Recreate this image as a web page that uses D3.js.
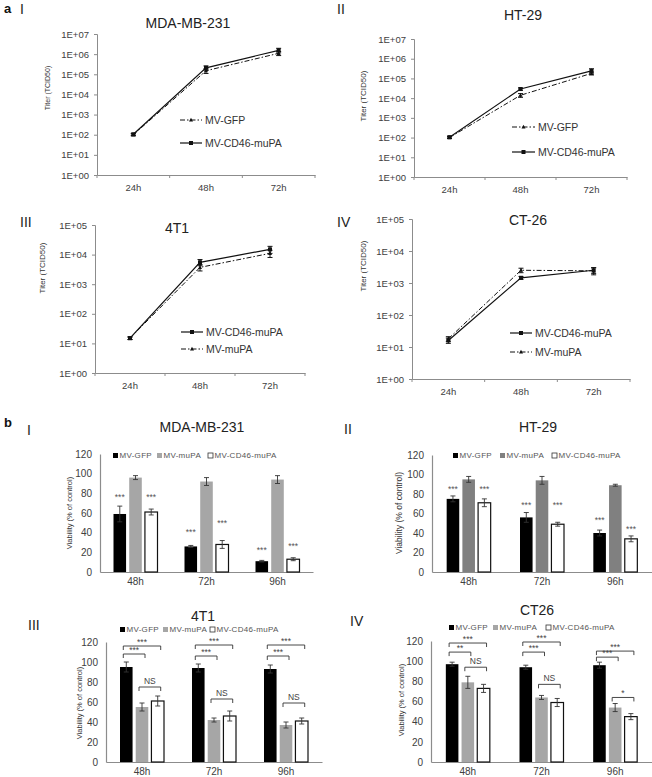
<!DOCTYPE html>
<html><head><meta charset="utf-8">
<script src="https://cdn.jsdelivr.net/npm/d3@7"></script>
<style>body{margin:0;background:#fff}svg{display:block;font-family:"Liberation Sans",Arial,sans-serif}</style>
</head><body>
<svg id="c" width="652" height="777"></svg>
<script>
// ---------- DATA ----------
const titerTimes = ["24h", "48h", "72h"];
const titerTicks7 = [1, 10, 100, 1e3, 1e4, 1e5, 1e6, 1e7];
const titerLabels7 = ["1E+00","1E+01","1E+02","1E+03","1E+04","1E+05","1E+06","1E+07"];
const titerTicks5 = [1, 10, 100, 1e3, 1e4, 1e5];
const titerLabels5 = ["1E+00","1E+01","1E+02","1E+03","1E+04","1E+05"];

const aI_GFP = [100, 1.5e5, 1.1e6];     const aI_GFP_err = [12, 4e4, 2.5e5];
const aI_CD46 = [105, 2.1e5, 1.55e6];   const aI_CD46_err = [12, 5e4, 4e5];
const aII_GFP = [100, 1.4e4, 1.8e5];    const aII_GFP_err = [10, 3e3, 3e4];
const aII_CD46 = [105, 2.9e4, 2.4e5];   const aII_CD46_err = [12, 4e3, 7e4];
const aIII_CD46 = [15, 5.5e3, 1.5e4];   const aIII_CD46_err = [1.5, 1.3e3, 4e3];
const aIII_muPA = [15, 3.7e3, 1.1e4];   const aIII_muPA_err = [1.5, 9e2, 3e3];
const aIV_CD46 = [16, 1.45e3, 2.5e3];   const aIV_CD46_err = [3, 1.5e2, 5e2];
const aIV_muPA = [18, 2.5e3, 2.4e3];    const aIV_muPA_err = [3, 4e2, 6e2];

const viabTimes = ["48h", "72h", "96h"];
const viabTicks = [0, 20, 40, 60, 80, 100, 120];
const viabSeries = ["MV-GFP", "MV-muPA", "MV-CD46-muPA"];

const bI_GFP = [59, 26, 11];   const bI_GFP_err = [8, 1, 0.8];
const bI_muPA = [96, 92, 94];  const bI_muPA_err = [2, 4, 4];
const bI_CD46 = [61, 28, 13];  const bI_CD46_err = [3, 4, 1.5];
const bI_starsGFP = [77, 42, 23];
const bI_starsCD46 = [77, 51, 27];

const bII_GFP = [75, 56, 40];  const bII_GFP_err = [3, 5, 3];
const bII_muPA = [95, 94, 89]; const bII_muPA_err = [3, 4, 1];
const bII_CD46 = [71, 49, 34]; const bII_CD46_err = [4, 2, 3];
const bII_starsGFP = [86, 70, 54];
const bII_starsCD46 = [86, 70, 45];

const bIII_GFP = [95, 94, 93]; const bIII_GFP_err = [5, 4, 4];
const bIII_muPA = [55, 42, 37]; const bIII_muPA_err = [4, 2, 3];
const bIII_CD46 = [61, 46, 41]; const bIII_CD46_err = [5, 5, 3];
// [time index, from series, to series, level, label]
const bIII_brackets = [
  [0,0,2,116,"***"],[0,0,1,108,"***"],[0,1,2,75,"NS"],
  [1,0,2,117,"***"],[1,0,1,106,"***"],[1,1,2,63,"NS"],
  [2,0,2,117,"***"],[2,0,1,106,"***"],[2,1,2,59,"NS"]];

const bIV_GFP = [97, 94, 96];  const bIV_GFP_err = [2, 2, 3];
const bIV_muPA = [79, 64, 54]; const bIV_muPA_err = [6, 2, 4];
const bIV_CD46 = [73, 59, 45]; const bIV_CD46_err = [4, 4, 3];
const bIV_brackets = [
  [0,0,2,118,"***"],[0,0,1,109,"**"],[0,1,2,94,"NS"],
  [1,0,2,119,"***"],[1,0,1,109,"***"],[1,1,2,77,"NS"],
  [2,0,2,110,"***"],[2,0,1,104,"***"],[2,1,2,64,"*"]];

// ---------- DRAW ----------
const svg = d3.select("#c");
const AX = "#8c8c8c", TXT = "#404040";

function txt(x, y, s, size, opts = {}) {
  const t = svg.append("text").attr("x", x).attr("y", y).text(s)
    .attr("font-size", size).attr("fill", opts.fill || "#222")
    .attr("text-anchor", opts.anchor || "middle");
  if (opts.weight) t.attr("font-weight", opts.weight);
  if (opts.rotate) t.attr("transform", `rotate(-90,${x},${y})`);
  if (opts.ls) t.attr("letter-spacing", opts.ls);
  return t;
}

function linePanel(c) {
  const g = svg.append("g");
  const y = d3.scaleLog().domain([1, c.ticks[c.ticks.length - 1]]).range([c.yBot, c.yTop]);
  const band = d3.scaleBand().domain(titerTimes).range([c.x0, c.x1]);
  const px = d => band(d) + band.bandwidth() / 2;
  const ya = g.append("g").attr("transform", `translate(${c.x0},0)`)
    .call(d3.axisLeft(y).tickValues(c.ticks).tickFormat((d, i) => c.labels[i]).tickSize(3).tickPadding(5));
  ya.selectAll("path,line").attr("stroke", AX);
  ya.selectAll("text").attr("font-size", 9.5).attr("fill", TXT).attr("font-family", "Liberation Sans");
  const xa = g.append("g").attr("transform", `translate(0,${c.yBot})`)
    .call(d3.axisBottom(band).tickSize(0).tickPadding(9));
  xa.select("path").attr("stroke", AX);
  xa.selectAll("text").attr("font-size", 9.5).attr("fill", TXT).attr("font-family", "Liberation Sans");
  const bnds = titerTimes.map(d => band(d)).concat([c.x1]);
  g.selectAll(".bt").data(bnds).enter().append("line")
    .attr("x1", d => d).attr("x2", d => d).attr("y1", c.yBot).attr("y2", c.yBot + 3).attr("stroke", AX);

  c.series.forEach(s => {
    const pts = titerTimes.map((t, i) => ({x: px(t), v: s.values[i], e: s.err[i]}));
    g.append("path").datum(pts).attr("fill", "none").attr("stroke", "#111").attr("stroke-width", s.dash ? 1 : 1.2)
      .attr("stroke-dasharray", s.dash || null)
      .attr("d", d3.line().x(d => d.x).y(d => y(d.v)));
    pts.forEach(p => {
      const y1 = y(p.v + p.e), y2 = y(Math.max(p.v - p.e, 1.01));
      g.append("line").attr("x1", p.x).attr("x2", p.x).attr("y1", y1).attr("y2", y2).attr("stroke", "#111");
      [y1, y2].forEach(yy => g.append("line").attr("x1", p.x - 2.5).attr("x2", p.x + 2.5).attr("y1", yy).attr("y2", yy).attr("stroke", "#111"));
      marker(g, p.x, y(p.v), s.dash ? "tri" : "sq");
    });
  });
  c.legend.forEach((s, i) => {
    const ly = c.legY[i];
    g.append("line").attr("x1", c.legX1).attr("x2", c.legX2).attr("y1", ly).attr("y2", ly)
      .attr("stroke", "#111").attr("stroke-width", s.dash ? 1 : 1.2).attr("stroke-dasharray", s.dash || null);
    marker(g, (c.legX1 + c.legX2) / 2, ly, s.dash ? "tri" : "sq");
    txt(c.legX2 + 3, ly + 3.5, s.name, c.legSize, {anchor: "start", fill: "#333"});
  });
  txt(c.titleX, c.titleY, c.title, 14, {fill: "#222"});
  txt(c.romanX, c.romanY, c.roman, 14, {anchor: "start", fill: "#222"});
  txt(c.ylabX, c.ylabY, "Titer (TCID50)", c.ylabSize, {rotate: true, fill: "#333"});
}

function marker(g, x, y, kind) {
  if (kind === "sq") g.append("rect").attr("x", x - 2).attr("y", y - 2).attr("width", 4).attr("height", 4).attr("fill", "#111");
  else g.append("path").attr("d", `M${x},${y - 2.2}L${x + 2},${y + 1.6}L${x - 2},${y + 1.6}Z`).attr("fill", "#111");
}

function barPanel(c) {
  const g = svg.append("g");
  const y = d3.scaleLinear().domain([0, 120]).range([c.y0, c.y120]);
  const band = d3.scaleBand().domain(viabTimes).range([c.x0, c.x1]);
  const ya = g.append("g").attr("transform", `translate(${c.x0},0)`)
    .call(d3.axisLeft(y).tickValues(viabTicks).tickSize(0).tickPadding(8));
  ya.select("path").attr("stroke", AX).attr("stroke-width", 1.2);
  ya.selectAll("text").attr("font-size", 10).attr("fill", TXT).attr("font-family", "Liberation Sans");
  const xa = g.append("g").attr("transform", `translate(0,${c.y0})`)
    .call(d3.axisBottom(band).tickSize(0).tickPadding(6));
  xa.select("path").attr("stroke", AX).attr("stroke-width", 1.2);
  xa.selectAll("text").attr("font-size", 10).attr("fill", TXT).attr("font-family", "Liberation Sans");

  const fills = ["#000", c.gray, "#fff"];
  const centers = [];
  viabTimes.forEach((t, ti) => {
    const cx = band(t) + band.bandwidth() / 2;
    const inner = d3.scaleBand().domain(viabSeries).range([cx - c.gw / 2, cx + c.gw / 2]).paddingInner(0.2);
    centers[ti] = [];
    c.data.forEach((s, si) => {
      const bx = inner(viabSeries[si]), bw = inner.bandwidth();
      const v = s.values[ti], e = s.err[ti];
      centers[ti][si] = bx + bw / 2;
      g.append("rect").attr("x", bx).attr("y", y(v)).attr("width", bw).attr("height", y(0) - y(v))
        .attr("fill", fills[si]).attr("stroke", si === 2 ? "#111" : "none").attr("stroke-width", 1.2);
      const ex = bx + bw / 2;
      g.append("line").attr("x1", ex).attr("x2", ex).attr("y1", y(v + e)).attr("y2", y(v - e)).attr("stroke", "#333").attr("stroke-width", 0.9);
      [v + e, v - e].forEach(vv => g.append("line").attr("x1", ex - 2.5).attr("x2", ex + 2.5).attr("y1", y(vv)).attr("y2", y(vv)).attr("stroke", "#333").attr("stroke-width", 0.9));
    });
    if (c.stars) c.stars.forEach(st => txt(centers[ti][st.si], y(st.h[ti]) + 4, "***", 8.5, {fill: "#555"}));
  });
  if (c.brackets) c.brackets.forEach(b => {
    const [ti, a, z, lvl, lab] = b;
    const xa1 = centers[ti][a] - 3, xz = centers[ti][z] + 3, yy = y(lvl);
    g.append("path").attr("d", `M${xa1},${yy + 4}V${yy}H${xz}V${yy + 4}`).attr("fill", "none").attr("stroke", "#333").attr("stroke-width", 0.9);
    txt((xa1 + xz) / 2, lab === "NS" ? yy - 3 : yy - 1.5, lab, lab === "NS" ? 8.5 : 8.5, {fill: "#444"});
  });
  c.legX.forEach((lx, i) => {
    g.append("rect").attr("x", lx).attr("y", c.legY - 5).attr("width", 5).attr("height", 5)
      .attr("fill", fills[i]).attr("stroke", i === 2 ? "#333" : "none").attr("stroke-width", 0.8);
    txt(lx + 6.5, c.legY, viabSeries[i], 8, {anchor: "start", fill: "#555", ls: 0.3});
  });
  txt(c.titleX, c.titleY, c.title, 14, {fill: "#222"});
  txt(c.romanX, c.romanY, c.roman, 14, {anchor: "start", fill: "#222"});
  txt(c.ylabX, c.ylabY, "Viability (% of control)", c.ylabSize, {rotate: true, fill: "#333"});
}

txt(4, 13, "a", 13, {anchor: "start", weight: "bold", fill: "#111"});
txt(4, 427, "b", 13, {anchor: "start", weight: "bold", fill: "#111"});

const GFPdash = "5,2,1.5,2";
linePanel({x0: 97, x1: 315, yTop: 34, yBot: 175, ticks: titerTicks7, labels: titerLabels7,
  title: "MDA-MB-231", titleX: 188, titleY: 28, roman: "I", romanX: 20, romanY: 14,
  ylabX: 50, ylabY: 88, ylabSize: 7,
  series: [{name: "MV-GFP", values: aI_GFP, err: aI_GFP_err, dash: GFPdash},
           {name: "MV-CD46-muPA", values: aI_CD46, err: aI_CD46_err}],
  legend: [{name: "MV-GFP", dash: GFPdash}, {name: "MV-CD46-muPA"}], legY: [120, 143],
  legX1: 180, legX2: 202, legSize: 10.5});
linePanel({x0: 414, x1: 627, yTop: 39, yBot: 177, ticks: titerTicks7, labels: titerLabels7,
  title: "HT-29", titleX: 523, titleY: 20, roman: "II", romanX: 337, romanY: 14,
  ylabX: 366, ylabY: 96, ylabSize: 8,
  series: [{name: "MV-GFP", values: aII_GFP, err: aII_GFP_err, dash: GFPdash},
           {name: "MV-CD46-muPA", values: aII_CD46, err: aII_CD46_err}],
  legend: [{name: "MV-GFP", dash: GFPdash}, {name: "MV-CD46-muPA"}], legY: [127, 152],
  legX1: 512, legX2: 535, legSize: 10.5});
linePanel({x0: 95, x1: 305, yTop: 225, yBot: 373, ticks: titerTicks5, labels: titerLabels5,
  title: "4T1", titleX: 177, titleY: 233, roman: "III", romanX: 20, romanY: 227,
  ylabX: 45, ylabY: 268, ylabSize: 8,
  series: [{name: "MV-muPA", values: aIII_muPA, err: aIII_muPA_err, dash: GFPdash},
           {name: "MV-CD46-muPA", values: aIII_CD46, err: aIII_CD46_err}],
  legend: [{name: "MV-CD46-muPA"}, {name: "MV-muPA", dash: GFPdash}], legY: [332, 349],
  legX1: 181, legX2: 203, legSize: 10.5});
linePanel({x0: 412, x1: 630, yTop: 219, yBot: 379, ticks: titerTicks5, labels: titerLabels5,
  title: "CT-26", titleX: 528, titleY: 225, roman: "IV", romanX: 337, romanY: 227,
  ylabX: 366, ylabY: 266, ylabSize: 8,
  series: [{name: "MV-muPA", values: aIV_muPA, err: aIV_muPA_err, dash: GFPdash},
           {name: "MV-CD46-muPA", values: aIV_CD46, err: aIV_CD46_err}],
  legend: [{name: "MV-CD46-muPA"}, {name: "MV-muPA", dash: GFPdash}], legY: [333, 352],
  legX1: 510, legX2: 532, legSize: 10.5});

barPanel({x0: 100, x1: 313, y0: 572, y120: 454, gw: 44, gray: "#a6a6a6",
  title: "MDA-MB-231", titleX: 202, titleY: 432, roman: "I", romanX: 27, romanY: 435,
  ylabX: 72, ylabY: 513, ylabSize: 7.5, legX: [113, 157, 208], legY: 458,
  data: [{values: bI_GFP, err: bI_GFP_err}, {values: bI_muPA, err: bI_muPA_err}, {values: bI_CD46, err: bI_CD46_err}],
  stars: [{si: 0, h: bI_starsGFP}, {si: 2, h: bI_starsCD46}]});
barPanel({x0: 432, x1: 652, y0: 572, y120: 455, gw: 44, gray: "#808080",
  title: "HT-29", titleX: 538, titleY: 432, roman: "II", romanX: 344, romanY: 434,
  ylabX: 402, ylabY: 513, ylabSize: 8.5, legX: [453, 500, 552], legY: 458,
  data: [{values: bII_GFP, err: bII_GFP_err}, {values: bII_muPA, err: bII_muPA_err}, {values: bII_CD46, err: bII_CD46_err}],
  stars: [{si: 0, h: bII_starsGFP}, {si: 2, h: bII_starsCD46}]});
barPanel({x0: 106, x1: 322, y0: 762, y120: 642, gw: 44, gray: "#a6a6a6",
  title: "4T1", titleX: 203, titleY: 621, roman: "III", romanX: 28, romanY: 630,
  ylabX: 82, ylabY: 703, ylabSize: 7.5, legX: [120, 163, 210], legY: 632,
  data: [{values: bIII_GFP, err: bIII_GFP_err}, {values: bIII_muPA, err: bIII_muPA_err}, {values: bIII_CD46, err: bIII_CD46_err}],
  brackets: bIII_brackets});
barPanel({x0: 431, x1: 652, y0: 762, y120: 641, gw: 44, gray: "#a6a6a6",
  title: "CT26", titleX: 537, titleY: 615, roman: "IV", romanX: 350, romanY: 626,
  ylabX: 404, ylabY: 700, ylabSize: 7.5, legX: [449, 493, 546], legY: 630,
  data: [{values: bIV_GFP, err: bIV_GFP_err}, {values: bIV_muPA, err: bIV_muPA_err}, {values: bIV_CD46, err: bIV_CD46_err}],
  brackets: bIV_brackets});
</script>
</body></html>
